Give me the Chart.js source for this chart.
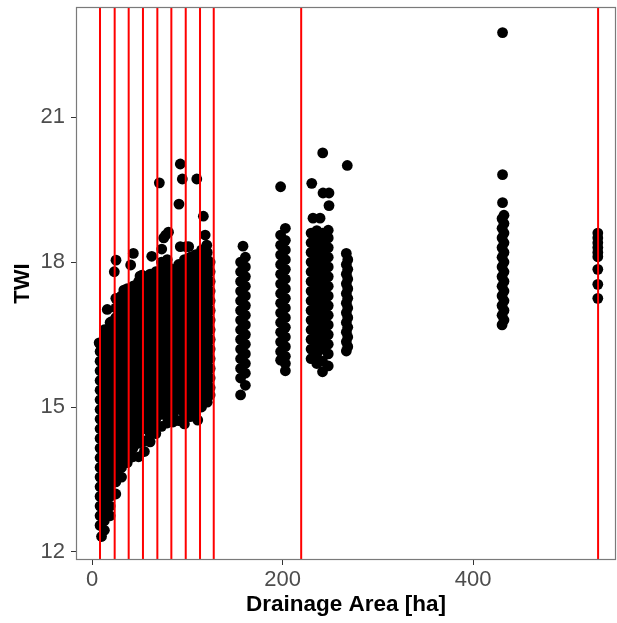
<!DOCTYPE html>
<html>
<head>
<meta charset="utf-8">
<script src="https://cdn.jsdelivr.net/npm/chart.js@4/dist/chart.umd.min.js"></script>
<style>
  html, body { margin: 0; padding: 0; background: #fff; }
  #wrap { width: 617px; height: 623px; }
</style>
</head>
<body>
<div id="wrap"><canvas id="c" width="617" height="623"></canvas></div>
<script>
// ---- data ----
const xTicks = [0, 200, 400];
const yTicks = [12, 15, 18, 21];
const xMin = -16.8, xMax = 550.1;
const yMin = 11.834, yMax = 23.28;

// red vertical reference lines (Drainage Area values)
const vlines = [8.4, 23.8, 38.5, 53.5, 68.6, 83.3, 98.4, 113.4, 127.8, 219.6, 531.3];

// dense cloud: x positions and TWI values at each
const colX = [8.5, 13, 19, 25, 31, 37, 43, 49, 55, 61, 67, 73, 79, 85, 91, 97, 103, 109, 115, 121, 124];
const colY = [
  [12.55,12.75,12.95,13.15,13.35,13.55,13.75,13.95,14.15,14.35,14.55,14.75,14.95,15.15,15.35,15.55,15.75,15.95,16.15,16.3],
  [12.45,12.65,12.85,13.05,13.25,13.45,13.65,13.85,14.05,14.25,14.45,14.65,14.85,15.05,15.25,15.45,15.65,15.85,16.05,16.25,16.45,16.6],
  [12.75,12.95,13.15,13.35,13.55,13.75,13.95,14.15,14.35,14.55,14.75,14.95,15.15,15.35,15.55,15.75,15.95,16.15,16.35,16.55,16.75],
  [13.2,13.45,13.65,13.85,14.05,14.25,14.45,14.65,14.85,15.05,15.25,15.45,15.65,15.85,16.05,16.25,16.45,16.65,16.85,17.05,17.25],
  [13.55,13.75,13.95,14.15,14.35,14.55,14.75,14.95,15.15,15.35,15.55,15.75,15.95,16.15,16.35,16.55,16.75,16.95,17.15,17.3],
  [13.85,14.05,14.25,14.45,14.65,14.85,15.05,15.25,15.45,15.65,15.85,16.05,16.25,16.45,16.65,16.85,17.05,17.25,17.45],
  [13.97,14.15,14.35,14.55,14.75,14.95,15.15,15.35,15.55,15.75,15.95,16.15,16.35,16.55,16.75,16.95,17.15,17.35,17.5],
  [13.97,14.25,14.45,14.65,14.85,15.05,15.25,15.45,15.65,15.85,16.05,16.25,16.45,16.65,16.85,17.05,17.25,17.45,17.6],
  [14.08,14.3,14.55,14.75,14.95,15.15,15.35,15.55,15.75,15.95,16.15,16.35,16.55,16.75,16.95,17.15,17.35,17.55,17.65],
  [14.28,14.45,14.65,14.85,15.05,15.25,15.45,15.65,15.85,16.05,16.25,16.45,16.65,16.85,17.05,17.25,17.45,17.65,17.75],
  [14.45,14.6,14.75,14.95,15.15,15.35,15.55,15.75,15.95,16.15,16.35,16.55,16.75,16.95,17.15,17.35,17.55,17.8],
  [14.6,14.85,15.05,15.25,15.45,15.65,15.85,16.05,16.25,16.45,16.65,16.85,17.05,17.25,17.45,17.65,17.85,18.0],
  [14.67,14.8,14.95,15.15,15.35,15.55,15.75,15.95,16.15,16.35,16.55,16.75,16.95,17.15,17.35,17.55,17.75,17.95,18.05],
  [14.69,14.85,15.05,15.25,15.45,15.65,15.85,16.05,16.25,16.45,16.65,16.85,17.05,17.25,17.45,17.65,17.85],
  [14.72,14.95,15.15,15.35,15.55,15.75,15.95,16.15,16.35,16.55,16.75,16.95,17.15,17.35,17.55,17.75,17.95],
  [14.65,14.85,15.05,15.25,15.45,15.65,15.85,16.05,16.25,16.45,16.65,16.85,17.05,17.25,17.45,17.65,17.85,18.05],
  [14.8,14.95,15.15,15.35,15.55,15.75,15.95,16.15,16.35,16.55,16.75,16.95,17.15,17.35,17.55,17.75,17.95,18.1],
  [14.92,15.05,15.25,15.45,15.65,15.85,16.05,16.25,16.45,16.65,16.85,17.05,17.25,17.45,17.65,17.85,18.05,18.15],
  [15.0,15.15,15.35,15.55,15.75,15.95,16.15,16.35,16.55,16.75,16.95,17.15,17.35,17.55,17.75,17.95,18.15,18.25],
  [15.1,15.25,15.45,15.65,15.85,16.05,16.25,16.45,16.65,16.85,17.05,17.25,17.45,17.65,17.85,18.05,18.2],
  [15.25,15.4,15.6,15.8,16.0,16.2,16.4,16.6,16.8,17.0,17.2,17.4,17.6,17.8,18.0]
];

// separate clusters at larger drainage areas
const clusterX = [156, 161, 198, 203, 230, 236, 242, 248, 267, 268.5, 430.5, 432.5, 531];
const clusterY = [
  [15.25,15.6,15.8,16.0,16.2,16.4,16.6,16.8,17.0,17.2,17.4,17.6,17.8,18.0],
  [15.45,15.7,15.9,16.1,16.3,16.5,16.7,16.9,17.1,17.3,17.5,17.7,17.9,18.1],
  [15.97,16.15,16.35,16.55,16.75,16.95,17.15,17.35,17.55,17.75,17.95,18.15,18.35,18.56],
  [15.75,15.9,16.05,16.25,16.45,16.65,16.85,17.05,17.25,17.45,17.65,17.85,18.05,18.25,18.45,18.7],
  [16.0,16.2,16.4,16.6,16.8,17.0,17.2,17.4,17.6,17.8,18.0,18.2,18.4,18.6],
  [15.9,16.1,16.3,16.5,16.7,16.9,17.1,17.3,17.5,17.7,17.9,18.1,18.3,18.5,18.65],
  [15.73,15.95,16.2,16.4,16.6,16.8,17.0,17.2,17.4,17.6,17.8,18.0,18.2,18.4,18.6],
  [15.85,16.1,16.3,16.5,16.7,16.9,17.1,17.3,17.5,17.7,17.9,18.1,18.3,18.5,18.66],
  [16.16,16.35,16.55,16.75,16.95,17.15,17.35,17.55,17.75,17.95,18.18],
  [16.25,16.45,16.65,16.85,17.05,17.25,17.45,17.65,17.85,18.05],
  [16.7,16.9,17.1,17.3,17.5,17.7,17.9,18.1,18.3,18.5,18.7,18.9],
  [16.8,17.0,17.2,17.4,17.6,17.8,18.0,18.2,18.4,18.6,18.8,18.97],
  [17.25,17.54,17.85,18.11,18.2,18.3,18.4,18.5,18.6]
];

// isolated points [Drainage Area, TWI]
const singles = [
  [10,12.32],[7.5,16.33],[21,16.77],[16,17.02],[23.4,17.8],[25.2,18.04],[30.4,17.28],[33.4,17.42],
  [40.6,17.94],[43.4,18.18],[45.5,17.52],[46.9,17.49],[50.4,17.71],[52.5,17.73],
  [62.7,18.12],[64.6,17.7],[70.7,19.64],[73.2,18.27],[75.3,18.5],[77.4,18.56],[80.3,18.62],
  [91.3,19.2],[92.7,20.03],[94.8,19.72],[92.7,18.32],[98.7,18.32],[101.5,18.32],[108.5,18.15],
  [110,19.72],[116.9,18.95],[118.8,18.56],[120.5,18.35],[111,14.73],
  [158.5,18.33],[198,19.56],
  [242.2,20.26],[230.7,19.63],[242.5,19.43],[248.8,19.43],[248.8,19.17],[232,18.91],[239.4,18.91],
  [268,20.0],[431,19.23],[431,19.81],[431,22.75]
];

// ---- build chart ----
const pts = [];
colX.forEach((x, i) => colY[i].forEach(y => pts.push({x, y})));
clusterX.forEach((x, i) => clusterY[i].forEach(y => pts.push({x, y})));
singles.forEach(p => pts.push({x: p[0], y: p[1]}));

const datasets = [];
vlines.forEach(v => datasets.push({
  type: 'line', data: [{x: v, y: yMin}, {x: v, y: yMax}],
  borderColor: '#ff0000', borderWidth: 2, pointRadius: 0, showLine: true,
  order: 0, clip: 0
}));
datasets.push({
  type: 'scatter', data: pts, backgroundColor: '#000000', borderWidth: 0,
  pointRadius: 5.4, pointHoverRadius: 5.4, order: 1
});

const frame = {
  id: 'frame',
  afterDatasetsDraw(chart) {
    const a = chart.chartArea, ctx = chart.ctx;
    ctx.save();
    ctx.strokeStyle = '#7a7a7a';
    ctx.lineWidth = 1.2;
    ctx.strokeRect(a.left + 0.5, a.top + 0.5, a.right - a.left - 1, a.bottom - a.top - 1);
    ctx.restore();
  }
};

function noPad(s) { s.paddingTop = 0; s.paddingBottom = 0; s.paddingLeft = 0; s.paddingRight = 0; }

new Chart(document.getElementById('c'), {
  type: 'scatter',
  data: { datasets },
  plugins: [frame],
  options: {
    responsive: false,
    animation: false,
    devicePixelRatio: 1,
    layout: { autoPadding: false, padding: { top: 7, right: 1, left: 0, bottom: 0 } },
    plugins: { legend: { display: false }, tooltip: { enabled: false } },
    scales: {
      x: {
        type: 'linear', min: xMin, max: xMax,
        afterBuildTicks: s => { s.ticks = xTicks.map(v => ({value: v})); },
        afterFit: s => { s.height = 63; noPad(s); },
        grid: { drawOnChartArea: false, drawTicks: true, tickLength: 5, color: '#333333', lineWidth: 1 },
        border: { display: false },
        ticks: { color: '#4d4d4d', font: { family: 'Liberation Sans', size: 22 }, padding: 2, maxRotation: 0 },
        title: { display: true, text: 'Drainage Area [ha]', color: '#000000',
                 font: { family: 'Liberation Sans', size: 22.5, weight: 'bold' }, padding: { top: 0, bottom: 5 } }
      },
      y: {
        type: 'linear', min: yMin, max: yMax,
        afterBuildTicks: s => { s.ticks = yTicks.map(v => ({value: v})); },
        afterFit: s => { s.width = 76; noPad(s); },
        grid: { drawOnChartArea: false, drawTicks: true, tickLength: 5, color: '#333333', lineWidth: 1 },
        border: { display: false },
        ticks: { color: '#4d4d4d', font: { family: 'Liberation Sans', size: 22 }, padding: 6 },
        title: { display: true, text: 'TWI', color: '#000000',
                 font: { family: 'Liberation Sans', size: 22, weight: 'bold' }, padding: { top: 10, bottom: 0 } }
      }
    }
  }
});
</script>
</body>
</html>
